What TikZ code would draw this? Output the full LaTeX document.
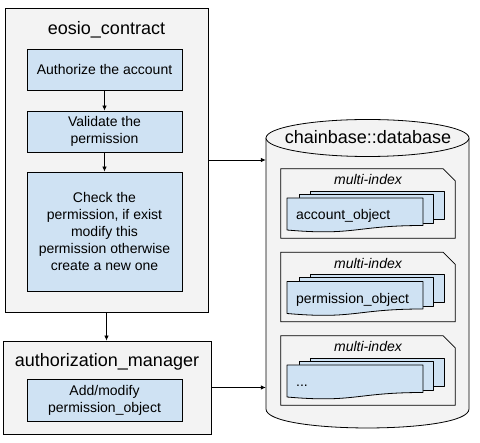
\documentclass[tikz,border=0pt]{standalone}
\usepackage{fontspec}
\setmainfont{Liberation Sans}
\usetikzlibrary{arrows.meta}
\definecolor{boxgray}{HTML}{F3F3F3}
\definecolor{boxblue}{HTML}{CFE2F3}
\newcommand\threedots{...}
\begin{document}
\begin{tikzpicture}[x=1pt,y=-1pt,
  outerbox/.style={draw=black, fill=boxgray, line width=0.8pt, inner sep=0pt},
  bluebox/.style={draw=black, fill=boxblue, line width=0.8pt, inner sep=0pt, align=center,
    font=\fontsize{14}{17}\selectfont},
  titletext/.style={font=\fontsize{18}{21}\selectfont, inner sep=0pt},
  smalltext/.style={font=\fontsize{14}{17}\selectfont, inner sep=0pt},
  arr/.style={draw=black, line width=0.8pt, -{Latex[length=5pt,width=4.5pt]}},
  panel/.style={draw=black, fill=boxgray, line width=0.8pt},
  card/.style={draw=black, fill=boxblue, line width=0.8pt, line join=round}
]
\useasboundingbox (0,0) rectangle (480,443);
\fill[white] (0,0) rectangle (480,443);

% eosio_contract
\node[outerbox, minimum width=203pt, minimum height=304pt] (eosio) at (106.5,160) {};
\node[titletext, anchor=base] (eosiot) at (106.5,35) {eosio\_contract};
\node[bluebox, minimum width=155pt, minimum height=41pt] (auth) at (104.5,69.5) {Authorize the account};
\node[bluebox, minimum width=155pt, minimum height=41pt] (valid) at (104.5,131.5) {Validate the\\permission};
\node[bluebox, minimum width=155pt, minimum height=119pt] (check) at (104.5,231.5) {Check the\\permission, if exist\\modify this\\permission otherwise\\create a new one};

% authorization_manager
\node[outerbox, minimum width=208pt, minimum height=93pt] (am) at (107,387.5) {};
\node[titletext, anchor=base] (amt) at (107,367) {authorization\_manager};
\node[bluebox, minimum width=155pt, minimum height=42pt] (add) at (104.5,400) {Add/modify\\permission\_object};

% database cylinder
\node[minimum width=203pt, minimum height=300pt, inner sep=0pt] (db) at (367.5,270) {};
\draw[fill=boxgray, line width=0.8pt] (266,138) -- (266,409) .. controls (266,434.3) and (469,434.3) .. (469,409) -- (469,138);
\draw[fill=boxgray, line width=0.8pt] (367.5,138) ellipse [x radius=101.5pt, y radius=18.5pt];
\node[titletext, anchor=base] (dbt) at (368,144) {chainbase::database};

\foreach \T/\lbl [count=\i] in {169/account\_object,252.5/permission\_object,336/\threedots}{
  \node[minimum width=174pt, minimum height=69pt, inner sep=0pt] (mi\i) at (368,\T+34.5) {};
  \draw[panel] (mi\i.south west) -- (mi\i.north west) -- ([xshift=-12pt]mi\i.north east)
     -- ([yshift=-12pt]mi\i.north east) -- (mi\i.south east) -- cycle;
  \node[smalltext, anchor=base] (mit\i) at (368,\T+16) {\itshape multi-index};
  \draw[card] (310,\T+22) rectangle (444,\T+50);
  \draw[card] (299,\T+25) rectangle (433,\T+54);
  \draw[card] (287,\T+29) -- (423,\T+29) -- (423,\T+56.5)
     .. controls (355,\T+56.5) and (355,\T+67) .. (287,\T+61) -- cycle;
  \node[smalltext, anchor=base west] (obj\i) at (296,\T+51) {\lbl};
}

% connectors
\draw[arr] (auth) -- (valid);
\draw[arr] (valid) -- (check);
\draw[arr] (eosio.south) -- (eosio.south |- am.north);
\draw[arr] (eosio.east) -- (eosio.east -| db.west);
\draw[arr] (am.east) -- (am.east -| db.west);
\end{tikzpicture}
\end{document}
